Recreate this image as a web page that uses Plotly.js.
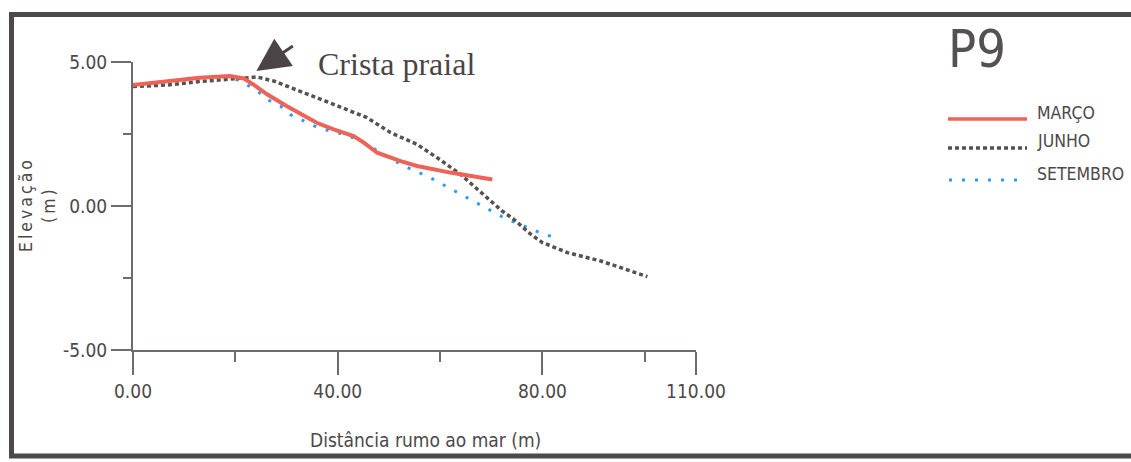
<!DOCTYPE html>
<html>
<head>
<meta charset="utf-8">
<script src="https://cdn.plot.ly/plotly-3.0.1.min.js"></script>
<style>
  html, body { margin: 0; padding: 0; background: #ffffff; }
  #chart { width: 1131px; height: 462px; }
</style>
</head>
<body>
<div id="chart"></div>
<script>
// Beach profile P9: elevation (m) against distance seaward (m)
const surveys = ["MARÇO", "JUNHO", "SETEMBRO"];

const distMarco = [0, 6.6, 13, 19, 21.6, 23.5, 26.2, 30, 35.9, 39.2, 43.1, 45.1, 47.7, 52.3, 55.5, 62, 70.2];
const elevMarco = [4.2, 4.32, 4.45, 4.51, 4.43, 4.22, 3.88, 3.47, 2.89, 2.66, 2.43, 2.2, 1.85, 1.56, 1.39, 1.16, 0.92];

const distJunho = [0, 6.6, 13, 20.9, 24.2, 27.5, 32.7, 39.2, 45.7, 50.3, 55.5, 59.4, 64, 72.1, 74.4, 77.7, 80, 84.9, 91.4, 100.5];
const elevJunho = [4.15, 4.2, 4.32, 4.45, 4.48, 4.34, 3.99, 3.53, 3.07, 2.55, 2.14, 1.68, 1.1, -0.17, -0.46, -0.98, -1.27, -1.62, -1.91, -2.45];

const distSetembro = [0, 6.6, 13, 19, 21.6, 23.9, 26.2, 28.8, 30.7, 33.3, 35.9, 38.6, 41.2, 43.8, 47.7, 52.9, 58.1, 63.2, 67.5, 72.5, 74.8, 77.4, 80, 82.5];
const elevSetembro = [4.2, 4.32, 4.45, 4.51, 4.28, 4.05, 3.7, 3.47, 3.18, 2.95, 2.74, 2.6, 2.49, 2.32, 1.91, 1.39, 0.98, 0.49, 0.05, -0.41, -0.58, -0.78, -0.96, -1.1];

const xMajorTicks = [0, 40, 80, 110];
const xMajorLabels = ["0.00", "40.00", "80.00", "110.00"];
const xMinorTicks = [20, 60, 100];
const yMajorTicks = [-5, 0, 5];
const yMajorLabels = ["-5.00", "0.00", "5.00"];
const yMinorTicks = [-2.5, 2.5];

const crestX = 24.1, crestY = 4.69;   // beach crest marker
const profileName = "P9";
const xTitle = "Distância rumo ao mar (m)";
const yTitle = "Elevação<br>(m)";

// line styles
const styles = {
  "MARÇO":    { color: "#ee6358", width: 4,   dash: "solid" },
  "JUNHO":    { color: "#57524f", width: 3.5, dash: "4px,3px" },
  "SETEMBRO": { color: "#2f9bef", width: 3,   dash: "3px,10px" }
};

const FIG_W = 1131, FIG_H = 462;
const M = { l: 133, r: 435, t: 62, b: 112 };
const plotW = FIG_W - M.l - M.r, plotH = FIG_H - M.t - M.b;
const px = x => (x - M.l) / plotW;
const py = y => (FIG_H - M.b - y) / plotH;

const narrow = "'Liberation Sans Narrow', 'DejaVu Sans Condensed', 'Liberation Sans', Arial, sans-serif";
const textGray = "#4c4849";

function profileTrace(name, xs, ys) {
  const s = styles[name];
  return {
    type: "scatter", mode: "lines", name: name, x: xs, y: ys,
    line: { color: s.color, width: s.width, dash: s.dash },
    hoverinfo: "skip", showlegend: false
  };
}

const traces = [
  profileTrace("SETEMBRO", distSetembro, elevSetembro),
  profileTrace("JUNHO", distJunho, elevJunho),
  profileTrace("MARÇO", distMarco, elevMarco)
];

// key on the right
const keyRows = [
  { name: "MARÇO",    lineY: 119, textY: 113, x0: 948, x1: 1027 },
  { name: "JUNHO",    lineY: 148, textY: 141, x0: 948, x1: 1027 },
  { name: "SETEMBRO", lineY: 180, textY: 174, x0: 949, x1: 1020 }
];

const shapes = keyRows.map(r => ({
  type: "line", xref: "paper", yref: "paper",
  x0: px(r.x0), x1: px(r.x1), y0: py(r.lineY), y1: py(r.lineY),
  line: { color: styles[r.name].color, width: Math.min(styles[r.name].width, 3.5), dash: styles[r.name].dash }
}));

// outer frame
const frame = { x0: 11.5, x1: 1160, y0: 14.5, y1: 456 };
shapes.push({
  type: "rect", xref: "paper", yref: "paper",
  x0: px(frame.x0), x1: px(frame.x1), y0: py(frame.y1), y1: py(frame.y0),
  line: { color: "#4d494a", width: 5 }, fillcolor: "rgba(0,0,0,0)"
});

const annotations = keyRows.map(r => ({
  xref: "paper", yref: "paper", x: px(1035), y: py(r.textY),
  xanchor: "left", yanchor: "middle", showarrow: false,
  text: r.name, font: { family: narrow, size: 17.5, color: textGray }
}));

annotations.push({
  xref: "paper", yref: "paper", x: px(946), y: py(49),
  xanchor: "left", yanchor: "middle", showarrow: false,
  text: profileName, font: { family: narrow, size: 52, color: "#555152" }
});

annotations.push({
  x: crestX, y: crestY, xref: "x", yref: "y",
  text: "", showarrow: true, arrowhead: 2, arrowsize: 2.2, arrowwidth: 3,
  arrowcolor: "#4a4446", ax: 38, ay: -26
});

annotations.push({
  xref: "paper", yref: "paper", x: px(316), y: py(64),
  xanchor: "left", yanchor: "middle", showarrow: false,
  text: "Crista praial", font: { family: "'Liberation Serif', 'Times New Roman', serif", size: 32, color: "#4a4446" }
});

// axis titles
annotations.push({
  xref: "paper", yref: "paper", x: px(425), y: py(440),
  xanchor: "center", yanchor: "middle", showarrow: false,
  text: xTitle, font: { family: narrow, size: 19, color: textGray }
});
annotations.push({
  xref: "paper", yref: "paper", x: px(37), y: py(205),
  xanchor: "center", yanchor: "middle", showarrow: false, textangle: -90,
  text: yTitle, font: { family: narrow, size: 17.5, color: textGray },
  name: "ytitle"
});

const axisCommon = {
  showline: true, linecolor: "#6f6b6c", linewidth: 2,
  showgrid: false, zeroline: false, ticks: "outside",
  tickwidth: 2, tickcolor: "#6f6b6c",
  tickfont: { family: narrow, size: 19, color: textGray },
  tickmode: "array", fixedrange: true
};

const layout = {
  width: FIG_W, height: FIG_H,
  margin: M,
  paper_bgcolor: "#ffffff", plot_bgcolor: "#ffffff",
  showlegend: false,
  xaxis: Object.assign({}, axisCommon, {
    range: [0, 110], tickvals: xMajorTicks, ticktext: xMajorLabels, ticklen: 23,
    minor: { tickmode: "array", tickvals: xMinorTicks, ticklen: 10, tickwidth: 2, tickcolor: "#6f6b6c", ticks: "outside" }
  }),
  yaxis: Object.assign({}, axisCommon, {
    range: [-5, 5], tickvals: yMajorTicks, ticktext: yMajorLabels, ticklen: 20,
    minor: { tickmode: "array", tickvals: yMinorTicks, ticklen: 8, tickwidth: 2, tickcolor: "#6f6b6c", ticks: "outside" }
  }),
  shapes: shapes,
  annotations: annotations
};

Plotly.newPlot("chart", traces, layout, { staticPlot: true }).then(gd => {
  // spaced lettering for the vertical title
  gd.querySelectorAll(".annotation-text").forEach(t => {
    if (t.textContent.indexOf("Elevação") === 0) t.style.letterSpacing = "3px";
  });
});
</script>
</body>
</html>
